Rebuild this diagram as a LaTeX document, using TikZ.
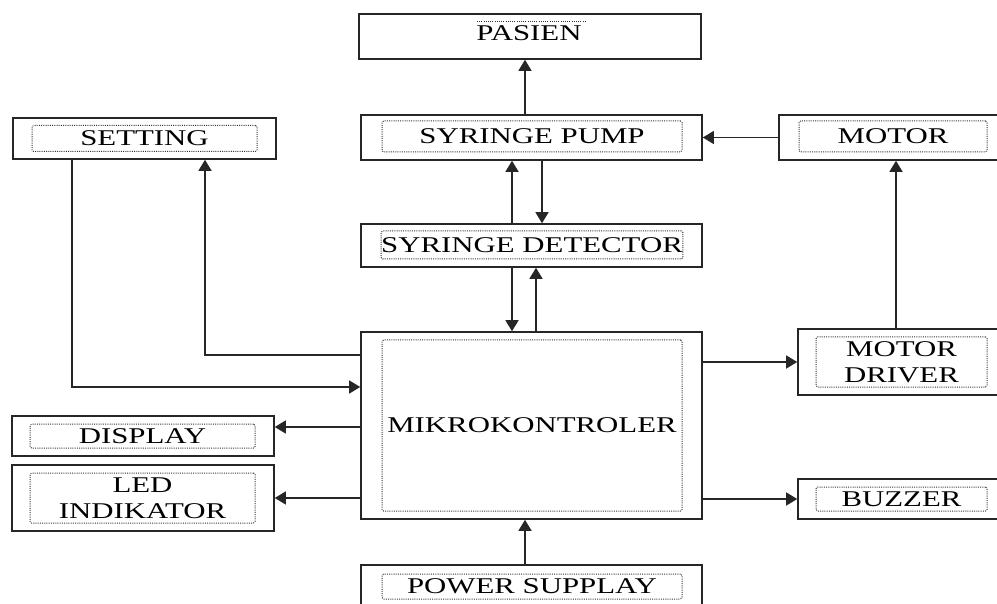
\documentclass[tikz,border=0pt]{standalone}
\usepackage{fontspec}
\setmainfont{Liberation Serif}[FakeStretch=1.37]
\usetikzlibrary{arrows.meta,positioning}
\tikzset{blok/.style={draw=black!85,line width=1.6pt,fill=white,inner sep=0pt},teks/.style={draw=black!80,line width=1pt,dash pattern=on 1pt off 1.2pt,rounded corners=1.5pt,inner sep=0pt,align=center,font=\fontsize{22.5}{25.5}\selectfont},edge/.style={-{Triangle[length=11pt,width=13pt]},line width=1.4pt,draw=black!85}}

\begin{document}
\begin{tikzpicture}[x=1pt,y=-1pt]
\useasboundingbox (0,0) rectangle (997,604);
\node[blok,minimum width=342pt,minimum height=45pt] (pasien) at (530,36.5) {};\node[font=\fontsize{22.5}{25.5}\selectfont,inner sep=0pt] (pasienteks) at (529,33) {PASIEN};
\draw[black!80,line width=1pt,dash pattern=on 1pt off 1.2pt] ([xshift=-53pt,yshift=-8pt]pasien.north) -- ([xshift=55pt,yshift=-8pt]pasien.north);
\node[blok,minimum width=263pt,minimum height=41pt] (setting) at (144.5,138.5) {};\node[teks,minimum width=225pt,minimum height=26pt] (settingteks) at (setting) {SETTING};
\node[blok,minimum width=341pt,minimum height=45pt] (pump) at (531.5,137.5) {};\node[teks,minimum width=300pt,minimum height=31pt] (pumpteks) at (532,136.5) {SYRINGE PUMP};
\node[blok,minimum width=228pt,minimum height=45pt] (motor) at (893,137.5) {};\node[teks,minimum width=188pt,minimum height=31pt] (motorteks) at (893,136.5) {MOTOR};
\node[blok,minimum width=341pt,minimum height=43pt] (detector) at (531.5,245.5) {};\node[teks,minimum width=300pt,minimum height=28pt] (detectorteks) at (532,245) {SYRINGE DETECTOR};
\node[blok,minimum width=341pt,minimum height=187pt] (mikro) at (531.5,425.5) {};\node[teks,minimum width=300pt,minimum height=171pt] (mikroteks) at (532,425.5) {MIKROKONTROLER};
\node[blok,minimum width=207pt,minimum height=66pt] (driver) at (901.5,362) {};\node[teks,minimum width=171pt,minimum height=50pt] (driverteks) at (driver) {MOTOR\\DRIVER};
\node[blok,minimum width=207pt,minimum height=40pt] (buzzer) at (901.5,499) {};\node[teks,minimum width=171pt,minimum height=24pt] (buzzerteks) at (buzzer) {BUZZER};
\node[blok,minimum width=262pt,minimum height=40pt] (display) at (143,436) {};\node[teks,minimum width=225pt,minimum height=24pt] (displayteks) at (142.5,436) {DISPLAY};
\node[blok,minimum width=262pt,minimum height=66pt] (led) at (143,498) {};\node[teks,minimum width=225pt,minimum height=50pt] (ledteks) at (142.5,498) {LED\\INDIKATOR};
\node[blok,minimum width=341pt,minimum height=50pt] (power) at (531.5,590) {};\node[teks,minimum width=300pt,minimum height=25pt] (powerteks) at (532,586.5) {POWER SUPPLAY};
\coordinate (displaymasuk) at ([yshift=9pt]display.east);
\draw[edge] ([xshift=-6.5pt]pump.north) -- ([xshift=-6.5pt]pump.north |- pasien.south);\draw[edge] (motor.west) -- (pump.east);
\draw[edge] ([xshift=-19.5pt]detector.north) -- ([xshift=-19.5pt]detector.north |- pump.south);\draw[edge] ([xshift=10.5pt]pump.south) -- ([xshift=10.5pt]pump.south |- detector.north);
\draw[edge] ([xshift=-19.5pt]detector.south) -- ([xshift=-19.5pt]detector.south |- mikro.north);\draw[edge] ([xshift=4.5pt]mikro.north) -- ([xshift=4.5pt]mikro.north |- detector.south);
\draw[edge] ([xshift=-5.5pt]driver.north) -- ([xshift=-5.5pt]driver.north |- motor.south);\draw[edge] (mikro.east |- driver.west) -- (driver.west);\draw[edge] (mikro.east |- buzzer.west) -- (buzzer.west);
\draw[edge] ([xshift=-6.5pt]power.north) -- ([xshift=-6.5pt]power.north |- mikro.south);
\draw[edge] ([xshift=-72.5pt]setting.south) |- ([yshift=38.5pt]mikro.west);\draw[edge] ([yshift=70.5pt]mikro.west) -| ([xshift=60.5pt]setting.south);
\draw[edge] (mikro.west |- displaymasuk) -- (displaymasuk);\draw[edge] (mikro.west |- led.east) -- (led.east);
\end{tikzpicture}
\end{document}
